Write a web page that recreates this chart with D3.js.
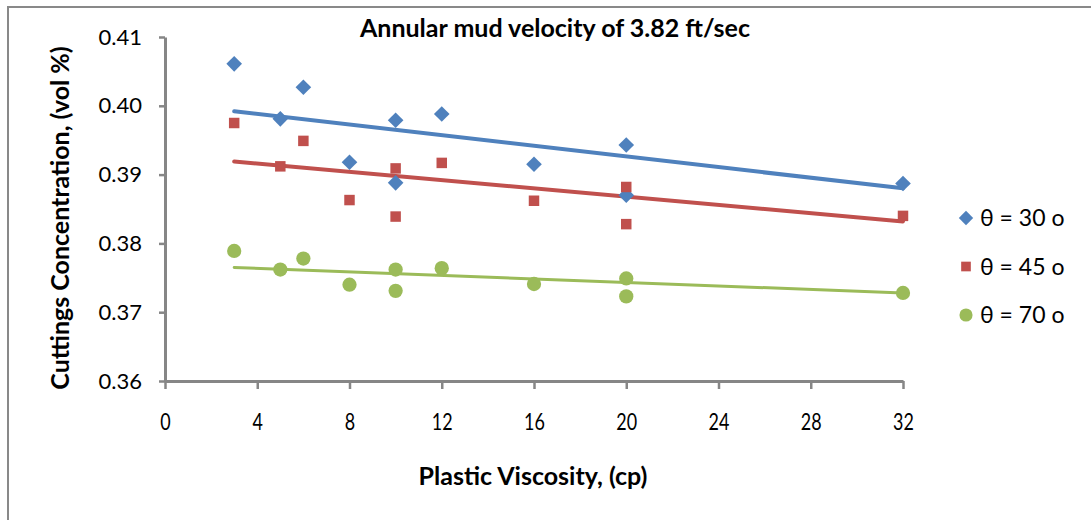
<!DOCTYPE html>
<html>
<head>
<meta charset="utf-8">
<script src="https://cdn.jsdelivr.net/npm/d3@7"></script>
<style>
  body { margin: 0; background: #fff; }
  text { font-family: Lato, "Noto Sans", sans-serif; fill: #000; }
</style>
</head>
<body>
<svg id="chart" width="1091" height="520"></svg>
<script>
// plastic viscosity (cp) for each measured point
var pv = [3, 5, 6, 8, 10, 10, 12, 16, 20, 20, 32];

// cuttings concentration, one array per angle
var conc30 = [0.4061, 0.3981, 0.4027, 0.3918, 0.3979, 0.3888, 0.3988, 0.3915, 0.3943, 0.3870, 0.3887];
var conc45 = [0.3975, 0.3912, 0.3949, 0.3863, 0.3909, 0.3839, 0.3917, 0.3862, 0.3882, 0.3828, 0.3840];
var conc70 = [0.3789, 0.3762, 0.3778, 0.3740, 0.3762, 0.3731, 0.3764, 0.3741, 0.3749, 0.3723, 0.3728];

// trendline ends as drawn in the picture
var trendX  = [3, 32];
var trend30 = [0.3992, 0.3880];
var trend45 = [0.3919, 0.3832];
var trend70 = [0.3765, 0.3728];

var xTicks = [0, 4, 8, 12, 16, 20, 24, 28, 32];
var yTicks = [0.36, 0.37, 0.38, 0.39, 0.40, 0.41];
var legendLabels = ['θ = 30 o', 'θ = 45 o', 'θ = 70 o'];

var axisGrey = '#868686';

var series = [
  { name: legendLabels[0], values: conc30, trend: trend30, color: '#4F81BD', shape: d3.symbolDiamond2, size: 155, lw: 4 },
  { name: legendLabels[1], values: conc45, trend: trend45, color: '#C0504D', shape: d3.symbolSquare2,  size: 140, lw: 4 },
  { name: legendLabels[2], values: conc70, trend: trend70, color: '#9BBB59', shape: d3.symbolCircle,   size: 160, lw: 3 }
];

var svg = d3.select('#chart');

// outer frame (top and left edges show in the picture)
svg.append('path')
    .attr('d', 'M8,520 L8,7 L1091,7')
    .attr('fill', 'none')
    .attr('stroke', '#898989')
    .attr('stroke-width', 2);

var x = d3.scaleLinear().domain([0, 32]).range([165, 903]);
var y = d3.scaleLinear().domain([0.36, 0.41]).range([381, 37]);

// y axis
var yAxis = svg.append('g')
    .attr('transform', 'translate(' + x(0) + ',0)')
    .call(d3.axisLeft(y).tickValues(yTicks).tickFormat(d3.format('.2f'))
      .tickSize(6).tickSizeOuter(0).tickPadding(17));

// x axis
var xAxis = svg.append('g')
    .attr('transform', 'translate(0,' + y(0.36) + ')')
    .call(d3.axisBottom(x).tickValues(xTicks).tickFormat(d3.format('d'))
      .tickSize(8).tickSizeOuter(0).tickPadding(25));

[yAxis, xAxis].forEach(function(g) {
  g.select('.domain').attr('stroke', axisGrey).attr('stroke-width', 3);
  g.selectAll('.tick line').attr('stroke', axisGrey).attr('stroke-width', 2.5);
  g.selectAll('.tick text').style('font-family', 'Lato, sans-serif').attr('fill', '#000');
});
yAxis.selectAll('.tick text').style('font-size', '22px');
xAxis.selectAll('.tick text').style('font-size', '23px')
    .attr('transform', 'scale(0.78,1)');

// trendlines
var line = d3.line()
    .x(function(d) { return x(d[0]); })
    .y(function(d) { return y(d[1]); });

series.forEach(function(s) {
  svg.append('path')
      .datum(d3.zip(trendX, s.trend))
      .attr('d', line)
      .attr('fill', 'none')
      .attr('stroke', s.color)
      .attr('stroke-width', s.lw)
      .attr('stroke-linecap', 'round');
});

// markers
series.forEach(function(s) {
  var sym = d3.symbol().type(s.shape).size(s.size);
  svg.append('g').selectAll('path')
      .data(d3.zip(pv, s.values))
    .enter().append('path')
      .attr('d', sym)
      .attr('transform', function(d) { return 'translate(' + x(d[0]) + ',' + y(d[1]) + ')'; })
      .attr('fill', s.color);
});

// legend
var legend = svg.append('g').selectAll('g')
    .data(series)
  .enter().append('g')
    .attr('transform', function(d, i) { return 'translate(966,' + (218 + i * 48.5) + ')'; });

legend.append('path')
    .attr('d', function(d) { return d3.symbol().type(d.shape).size(d.size * 0.85)(); })
    .attr('fill', function(d) { return d.color; });

legend.append('text')
    .attr('x', 14)
    .attr('dy', '0.36em')
    .style('font-size', '23px')
    .text(function(d) { return d.name; });

// titles
svg.append('text')
    .attr('x', 555).attr('y', 37)
    .attr('text-anchor', 'middle')
    .style('font-size', '25px').style('font-weight', 'bold')
    .text('Annular mud velocity of 3.82 ft/sec');

svg.append('text')
    .attr('x', 533).attr('y', 485)
    .attr('text-anchor', 'middle')
    .style('font-size', '25px').style('font-weight', 'bold')
    .text('Plastic Viscosity, (cp)');

svg.append('text')
    .attr('transform', 'translate(69,218) rotate(-90)')
    .attr('text-anchor', 'middle')
    .style('font-size', '25px').style('font-weight', 'bold')
    .text('Cuttings Concentration, (vol %)');
</script>
</body>
</html>
